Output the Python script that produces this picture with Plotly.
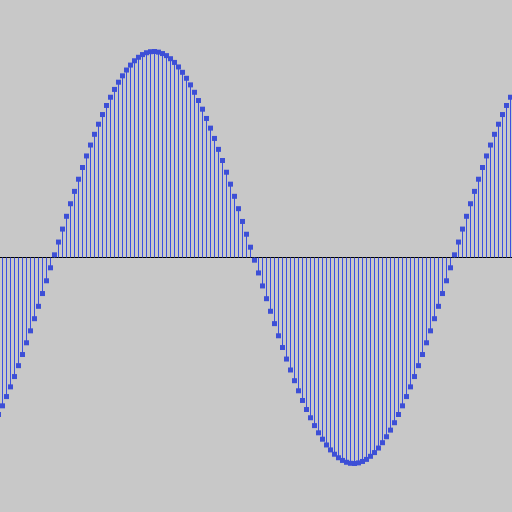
import plotly.graph_objects as go

sample_index = list(range(-1, 129))
values = [
    -0.762,
    -0.720, -0.675, -0.628, -0.578, -0.525, -0.471, -0.414, -0.356, -0.297, -0.237,
    -0.175, -0.113, -0.050, 0.013, 0.075, 0.138, 0.200, 0.261, 0.321, 0.380,
    0.437, 0.493, 0.546, 0.598, 0.647, 0.694, 0.738, 0.778, 0.816, 0.851,
    0.882, 0.910, 0.934, 0.955, 0.972, 0.985, 0.994, 0.999, 1.000, 0.997,
    0.990, 0.980, 0.965, 0.947, 0.925, 0.899, 0.870, 0.838, 0.802, 0.762,
    0.720, 0.675, 0.628, 0.578, 0.525, 0.471, 0.414, 0.356, 0.297, 0.237,
    0.175, 0.113, 0.050, -0.013, -0.075, -0.138, -0.200, -0.261, -0.321, -0.380,
    -0.437, -0.493, -0.546, -0.598, -0.647, -0.694, -0.738, -0.778, -0.816, -0.851,
    -0.882, -0.910, -0.934, -0.955, -0.972, -0.985, -0.994, -0.999, -1.000, -0.997,
    -0.990, -0.980, -0.965, -0.947, -0.925, -0.899, -0.870, -0.838, -0.802, -0.762,
    -0.720, -0.675, -0.628, -0.578, -0.525, -0.471, -0.414, -0.356, -0.297, -0.237,
    -0.175, -0.113, -0.050, 0.013, 0.075, 0.138, 0.200, 0.261, 0.321, 0.380,
    0.437, 0.493, 0.546, 0.598, 0.647, 0.694, 0.738, 0.778, 0.816,
]
baseline_value = 0.0

stem_color = "#3b4fe2"
marker_color = "#3d4fd6"
bg_color = "#c8c8c8"

# build stem segments from the data
stem_x, stem_y = [], []
for xv, yv in zip(sample_index, values):
    stem_x += [xv, xv, None]
    stem_y += [baseline_value, yv, None]

fig = go.Figure()
fig.add_trace(go.Scatter(
    x=[sample_index[0] - 2, sample_index[-1] + 2], y=[baseline_value, baseline_value],
    mode="lines", line=dict(color="black", width=1), hoverinfo="skip"))
fig.add_trace(go.Scatter(
    x=stem_x, y=stem_y, mode="lines",
    line=dict(color=stem_color, width=1), hoverinfo="skip"))
fig.add_trace(go.Scatter(
    x=sample_index, y=values, mode="markers",
    marker=dict(symbol="square", size=5, color=marker_color, line=dict(width=0))))

fig.update_layout(
    width=512, height=512,
    margin=dict(l=0, r=0, t=0, b=0),
    paper_bgcolor=bg_color, plot_bgcolor=bg_color,
    showlegend=False,
    xaxis=dict(range=[-0.625, 127.375], visible=False, showgrid=False, zeroline=False),
    yaxis=dict(range=[-1.2354, 1.25], visible=False, showgrid=False, zeroline=False),
)

fig.write_html(
    "out.html",
    config={"displayModeBar": False},
    post_script="document.body.style.margin='0';document.body.style.background='#c8c8c8';",
)
